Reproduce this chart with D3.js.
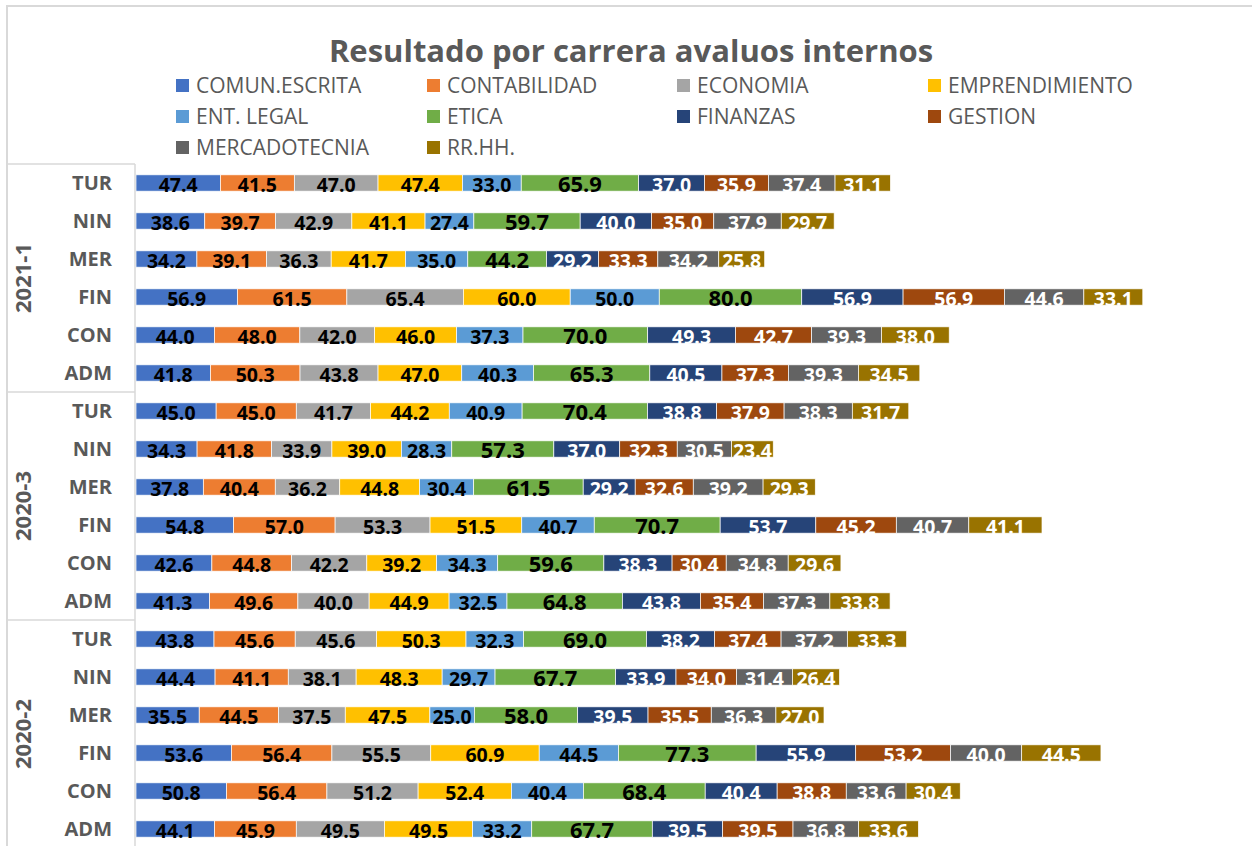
<!DOCTYPE html>
<html>
<head>
<meta charset="utf-8">
<script src="https://cdn.jsdelivr.net/npm/d3@7"></script>
<style>
  html, body { margin: 0; padding: 0; background: #fff; }
  svg { display: block; }
</style>
</head>
<body>
<svg id="chart" width="1252" height="846"></svg>
<script>
// ---------- DATA ----------
const title = "Resultado por carrera avaluos internos";
const periods = ["2021-1", "2020-3", "2020-2"];
const careers = ["TUR", "NIN", "MER", "FIN", "CON", "ADM"];
const seriesNames = ["COMUN.ESCRITA", "CONTABILIDAD", "ECONOMIA", "EMPRENDIMIENTO", "ENT. LEGAL",
                     "ETICA", "FINANZAS", "GESTION", "MERCADOTECNIA", "RR.HH."];

// values per series, rows ordered top to bottom: 2021-1 (TUR..ADM), 2020-3 (TUR..ADM), 2020-2 (TUR..ADM)
const comunEscrita  = [47.4, 38.6, 34.2, 56.9, 44.0, 41.8, 45.0, 34.3, 37.8, 54.8, 42.6, 41.3, 43.8, 44.4, 35.5, 53.6, 50.8, 44.1];
const contabilidad  = [41.5, 39.7, 39.1, 61.5, 48.0, 50.3, 45.0, 41.8, 40.4, 57.0, 44.8, 49.6, 45.6, 41.1, 44.5, 56.4, 56.4, 45.9];
const economia      = [47.0, 42.9, 36.3, 65.4, 42.0, 43.8, 41.7, 33.9, 36.2, 53.3, 42.2, 40.0, 45.6, 38.1, 37.5, 55.5, 51.2, 49.5];
const emprendimiento= [47.4, 41.1, 41.7, 60.0, 46.0, 47.0, 44.2, 39.0, 44.8, 51.5, 39.2, 44.9, 50.3, 48.3, 47.5, 60.9, 52.4, 49.5];
const entLegal      = [33.0, 27.4, 35.0, 50.0, 37.3, 40.3, 40.9, 28.3, 30.4, 40.7, 34.3, 32.5, 32.3, 29.7, 25.0, 44.5, 40.4, 33.2];
const etica         = [65.9, 59.7, 44.2, 80.0, 70.0, 65.3, 70.4, 57.3, 61.5, 70.7, 59.6, 64.8, 69.0, 67.7, 58.0, 77.3, 68.4, 67.7];
const finanzas      = [37.0, 40.0, 29.2, 56.9, 49.3, 40.5, 38.8, 37.0, 29.2, 53.7, 38.3, 43.8, 38.2, 33.9, 39.5, 55.9, 40.4, 39.5];
const gestion       = [35.9, 35.0, 33.3, 56.9, 42.7, 37.3, 37.9, 32.3, 32.6, 45.2, 30.4, 35.4, 37.4, 34.0, 35.5, 53.2, 38.8, 39.5];
const mercadotecnia = [37.4, 37.9, 34.2, 44.6, 39.3, 39.3, 38.3, 30.5, 39.2, 40.7, 34.8, 37.3, 37.2, 31.4, 36.3, 40.0, 33.6, 36.8];
const rrhh          = [31.1, 29.7, 25.8, 33.1, 38.0, 34.5, 31.7, 23.4, 29.3, 41.1, 29.6, 33.8, 33.3, 26.4, 27.0, 44.5, 30.4, 33.6];

const seriesValues = [comunEscrita, contabilidad, economia, emprendimiento, entLegal,
                      etica, finanzas, gestion, mercadotecnia, rrhh];
const colors = ["#4472C4", "#ED7D31", "#A5A5A5", "#FFC000", "#5B9BD5",
                "#70AD47", "#264478", "#9E480E", "#636363", "#997300"];
const labelColors = ["#000", "#000", "#000", "#000", "#000", "#000", "#fff", "#fff", "#fff", "#fff"];

// ---------- BUILD TABLE ----------
const rows = [];
periods.forEach(p => careers.forEach(c => rows.push({ period: p, career: c, key: p + "|" + c })));
rows.forEach((r, i) => seriesNames.forEach((s, j) => r[s] = seriesValues[j][i]));

const stack = d3.stack().keys(seriesNames)(rows);

// ---------- LAYOUT ----------
const svg = d3.select("#chart");
const FONT = "'Open Sans', 'Noto Sans', sans-serif";
const textGray = "#595959";

const plotLeft = 136, plotTop = 164, plotBottom = 848;
const x = d3.scaleLinear().domain([0, 600]).range([plotLeft, plotLeft + 600 * 1.781]);
const y = d3.scaleBand().domain(rows.map(r => r.key)).range([plotTop, plotBottom])
  .paddingInner(0.57).paddingOuter(0.285);

// chart border
svg.append("rect").attr("x", 7).attr("y", 6).attr("width", 1260).attr("height", 860)
  .attr("fill", "none").attr("stroke", "#d9d9d9").attr("stroke-width", 2);

// title
svg.append("text").attr("x", 631).attr("y", 62).attr("text-anchor", "middle")
  .attr("font-family", FONT).attr("font-weight", "bold").attr("font-size", 31)
  .attr("fill", textGray).text(title);

// legend
const legCols = [176, 427, 677, 928];
const legRows = [85.5, 116.5, 147.5];
const leg = svg.append("g");
seriesNames.forEach((s, i) => {
  const lx = legCols[i % 4], ly = legRows[Math.floor(i / 4)];
  leg.append("rect").attr("x", lx).attr("y", ly - 6.5).attr("width", 13).attr("height", 13).attr("fill", colors[i]);
  leg.append("text").attr("x", lx + 20).attr("y", ly).attr("dy", "0.36em")
    .attr("font-family", FONT).attr("font-size", 21).attr("fill", textGray).text(s);
});

// bars
const bw = y.bandwidth();
const layers = svg.append("g").selectAll("g").data(stack).join("g")
  .attr("fill", (d, i) => colors[i]);
layers.selectAll("rect").data(d => d).join("rect")
  .attr("x", d => x(d[0])).attr("width", d => x(d[1]) - x(d[0]))
  .attr("y", d => y(d.data.key)).attr("height", bw)
  .attr("stroke", "#ffffff").attr("stroke-width", 0.7);

// data labels
const lab = svg.append("g");
stack.forEach((layer, i) => {
  lab.selectAll(null).data(layer).join("text")
    .attr("x", d => (x(d[0]) + x(d[1])) / 2)
    .attr("y", d => y(d.data.key) + bw + 1)
    .attr("text-anchor", "middle")
    .attr("font-family", FONT).attr("font-weight", "bold")
    .attr("font-size", i === 5 ? 22 : 19.5)
    .attr("fill", labelColors[i])
    .text(d => d3.format(".1f")(d[1] - d[0]));
});

// axis box (multi-level category axis)
const axisG = svg.append("g").attr("stroke", "#d9d9d9").attr("stroke-width", 1.5);
axisG.append("line").attr("x1", plotLeft - 1).attr("x2", plotLeft - 1).attr("y1", plotTop).attr("y2", 846);
periods.forEach((p, i) => {
  const yy = y(p + "|" + careers[0]) - y.step() * y.paddingOuter();
  axisG.append("line").attr("x1", 7).attr("x2", plotLeft - 1).attr("y1", yy).attr("y2", yy);
});

// category labels
svg.append("g").selectAll("text").data(rows).join("text")
  .attr("x", 112).attr("y", d => y(d.key) + bw / 2).attr("dy", "0.36em")
  .attr("text-anchor", "end").attr("font-family", FONT).attr("font-weight", "bold")
  .attr("font-size", 20).attr("fill", textGray).text(d => d.career);

// period labels
periods.forEach(p => {
  const y0 = y(p + "|" + careers[0]), y1 = y(p + "|" + careers[careers.length - 1]) + bw;
  const cy = (y0 + y1) / 2;
  svg.append("text").attr("transform", `translate(23,${cy}) rotate(-90)`)
    .attr("dy", "0.36em").attr("text-anchor", "middle")
    .attr("font-family", FONT).attr("font-weight", "bold").attr("font-size", 22)
    .attr("fill", textGray).text(p);
});
</script>
</body>
</html>
